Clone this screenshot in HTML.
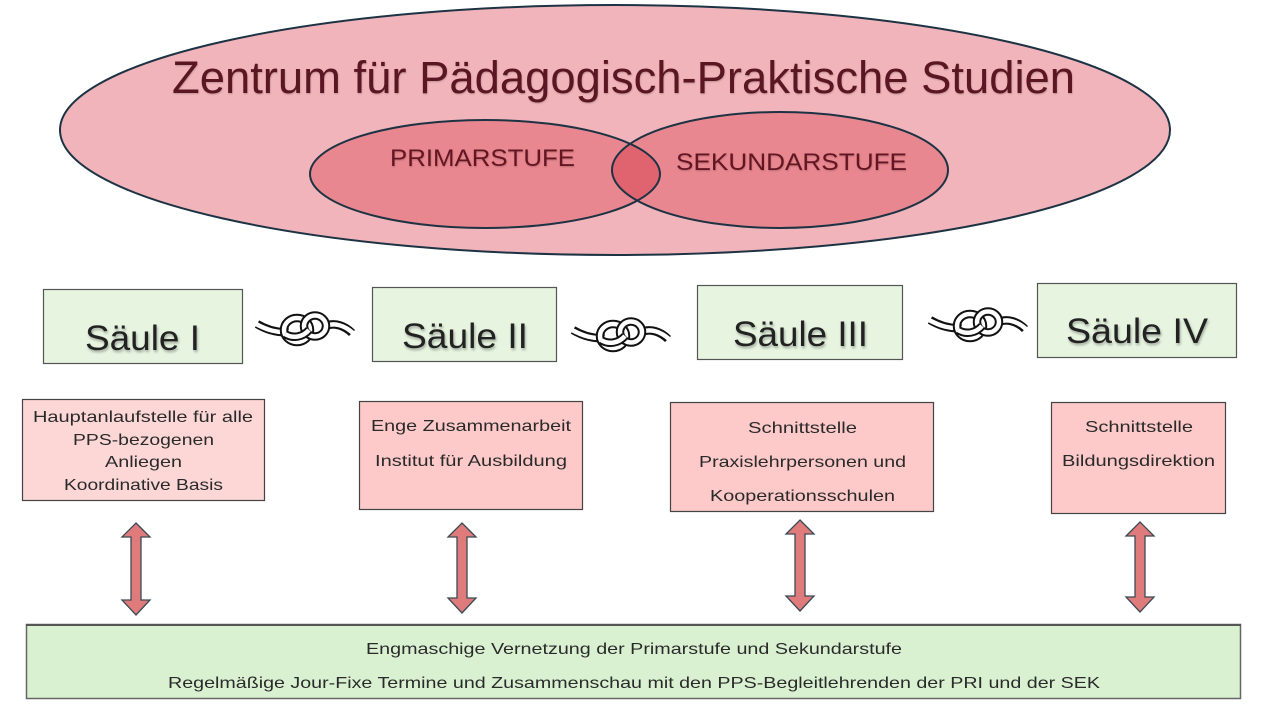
<!DOCTYPE html>
<html><head><meta charset="utf-8"><style>
html,body{margin:0;padding:0;background:#fff;}
svg{display:block;}
text{font-family:"Liberation Sans",sans-serif;}
</style></head><body>
<svg width="1280" height="720" viewBox="0 0 1280 720" xmlns="http://www.w3.org/2000/svg">
<defs>
<clipPath id="cp"><ellipse cx="485" cy="174" rx="175" ry="54"/></clipPath>
<filter id="sh" x="-10%" y="-20%" width="130%" height="150%"><feDropShadow dx="1" dy="2" stdDeviation="1.2" flood-color="#000" flood-opacity="0.3"/></filter>
<filter id="sh2" x="-10%" y="-20%" width="130%" height="150%"><feDropShadow dx="0.5" dy="1" stdDeviation="0.8" flood-color="#000" flood-opacity="0.2"/></filter>
</defs>

<!-- big ellipse -->
<ellipse cx="615" cy="130" rx="555" ry="125" fill="#f0b4ba" stroke="#1d3344" stroke-width="2"/>
<text x="172" y="93" font-size="45" fill="#5a1520" textLength="903" lengthAdjust="spacingAndGlyphs" filter="url(#sh2)">Zentrum für Pädagogisch-Praktische Studien</text>

<!-- inner ellipses -->
<ellipse cx="485" cy="174" rx="175" ry="54" fill="#e8878f"/>
<ellipse cx="780" cy="170" rx="168" ry="58" fill="#e8878f"/>
<ellipse cx="780" cy="170" rx="168" ry="58" fill="#e06470" clip-path="url(#cp)"/>
<ellipse cx="485" cy="174" rx="175" ry="54" fill="none" stroke="#1d3344" stroke-width="2"/>
<ellipse cx="780" cy="170" rx="168" ry="58" fill="none" stroke="#1d3344" stroke-width="2"/>
<text x="390" y="166" font-size="24" fill="#641520" textLength="185" lengthAdjust="spacingAndGlyphs" filter="url(#sh2)">PRIMARSTUFE</text>
<text x="676" y="170" font-size="24" fill="#641520" textLength="231" lengthAdjust="spacingAndGlyphs" filter="url(#sh2)">SEKUNDARSTUFE</text>

<!-- Säule boxes -->
<rect x="43.5" y="289.5" width="199" height="74" fill="#e6f4e0" stroke="#555" stroke-width="1.2"/>
<rect x="372.5" y="287.5" width="184" height="74" fill="#e6f4e0" stroke="#555" stroke-width="1.2"/>
<rect x="697.5" y="285.5" width="205" height="74" fill="#e6f4e0" stroke="#555" stroke-width="1.2"/>
<rect x="1037.5" y="283.5" width="199" height="74" fill="#e6f4e0" stroke="#555" stroke-width="1.2"/>
<g font-size="35" fill="#222" filter="url(#sh)">
<text x="85" y="350" textLength="115" lengthAdjust="spacingAndGlyphs">Säule I</text>
<text x="402" y="348" textLength="126" lengthAdjust="spacingAndGlyphs">Säule II</text>
<text x="733" y="346" textLength="135" lengthAdjust="spacingAndGlyphs">Säule III</text>
<text x="1066" y="343" textLength="142" lengthAdjust="spacingAndGlyphs">Säule IV</text>
</g>

<!-- knots -->
<g id="knot" transform="translate(257,312)" fill="none" stroke-linecap="butt">
  <g stroke="#111" stroke-width="8.5">
    <path d="M0,12 C10,18 20,21 32,20"/>
    <path d="M68,14 C78,10 88,14 95,21"/>
  </g>
  <g stroke="#fff" stroke-width="4.5">
    <path d="M-1,12 C10,18 20,21 32,20"/>
    <path d="M68,14 C78,10 88,14 96,21"/>
  </g>
  <ellipse cx="40" cy="18" rx="13" ry="12" stroke="#111" stroke-width="8.5"/>
  <ellipse cx="40" cy="18" rx="13" ry="12" stroke="#fff" stroke-width="4.5"/>
  <ellipse cx="58" cy="14" rx="11" ry="10.5" stroke="#111" stroke-width="8.5"/>
  <ellipse cx="58" cy="14" rx="11" ry="10.5" stroke="#fff" stroke-width="4.5"/>
  <path d="M28,22 C36,27 46,25 52,18" stroke="#111" stroke-width="8.5"/>
  <path d="M28,22 C36,27 46,25 52,18" stroke="#fff" stroke-width="4.5"/>
</g>
<g transform="translate(316,6)"><use href="#knot"/></g>
<g transform="translate(673,-4)"><use href="#knot"/></g>

<!-- pink boxes -->
<rect x="22.5" y="399.5" width="242" height="101" fill="#fdd6d6" stroke="#444" stroke-width="1.2"/>
<rect x="359.5" y="401.5" width="223" height="108" fill="#fdc9c9" stroke="#444" stroke-width="1.2"/>
<rect x="670.5" y="402.5" width="263" height="109" fill="#fdc9c9" stroke="#444" stroke-width="1.2"/>
<rect x="1051.5" y="402.5" width="174" height="111" fill="#fdc9c9" stroke="#444" stroke-width="1.2"/>
<g font-size="16" fill="#2a2a2a">
<text x="33" y="422" textLength="220" lengthAdjust="spacingAndGlyphs">Hauptanlaufstelle für alle</text>
<text x="73" y="445" textLength="141" lengthAdjust="spacingAndGlyphs">PPS-bezogenen</text>
<text x="105" y="467" textLength="77" lengthAdjust="spacingAndGlyphs">Anliegen</text>
<text x="64" y="490" textLength="159" lengthAdjust="spacingAndGlyphs">Koordinative Basis</text>

<text x="371" y="431" textLength="200" lengthAdjust="spacingAndGlyphs">Enge Zusammenarbeit</text>
<text x="375" y="466" textLength="192" lengthAdjust="spacingAndGlyphs">Institut für Ausbildung</text>

<text x="748" y="433" textLength="109" lengthAdjust="spacingAndGlyphs">Schnittstelle</text>
<text x="699" y="467" textLength="207" lengthAdjust="spacingAndGlyphs">Praxislehrpersonen und</text>
<text x="710" y="501" textLength="185" lengthAdjust="spacingAndGlyphs">Kooperationsschulen</text>

<text x="1085" y="432" textLength="108" lengthAdjust="spacingAndGlyphs">Schnittstelle</text>
<text x="1062" y="466" textLength="153" lengthAdjust="spacingAndGlyphs">Bildungsdirektion</text>
</g>

<!-- arrows -->
<g fill="#e07b7c" stroke="#3c4a55" stroke-width="1.3" stroke-linejoin="miter">
<path d="M136,523 L150,537 L141,537 L141,600 L150,600 L136,615 L122,600 L131,600 L131,537 L122,537 Z"/>
<path d="M462,523 L476,537 L467,537 L467,598 L476,598 L462,613 L448,598 L457,598 L457,537 L448,537 Z"/>
<path d="M800,520 L814,534 L805,534 L805,596 L814,596 L800,611 L786,596 L795,596 L795,534 L786,534 Z"/>
<path d="M1140,522 L1154,536 L1145,536 L1145,597 L1154,597 L1140,612 L1126,597 L1135,597 L1135,536 L1126,536 Z"/>
</g>

<!-- bottom box -->
<rect x="26.5" y="624.5" width="1214" height="74" fill="#d9f1d1" stroke="#666" stroke-width="1.5"/>
<line x1="26" y1="625" x2="1241" y2="625" stroke="#555" stroke-width="2"/>
<g font-size="16" fill="#2a2a2a">
<text x="366" y="654" textLength="536" lengthAdjust="spacingAndGlyphs">Engmaschige Vernetzung der Primarstufe und Sekundarstufe</text>
<text x="168" y="688" textLength="932" lengthAdjust="spacingAndGlyphs">Regelmäßige Jour-Fixe Termine  und Zusammenschau mit den PPS-Begleitlehrenden der PRI und der SEK</text>
</g>
</svg>
</body></html>
